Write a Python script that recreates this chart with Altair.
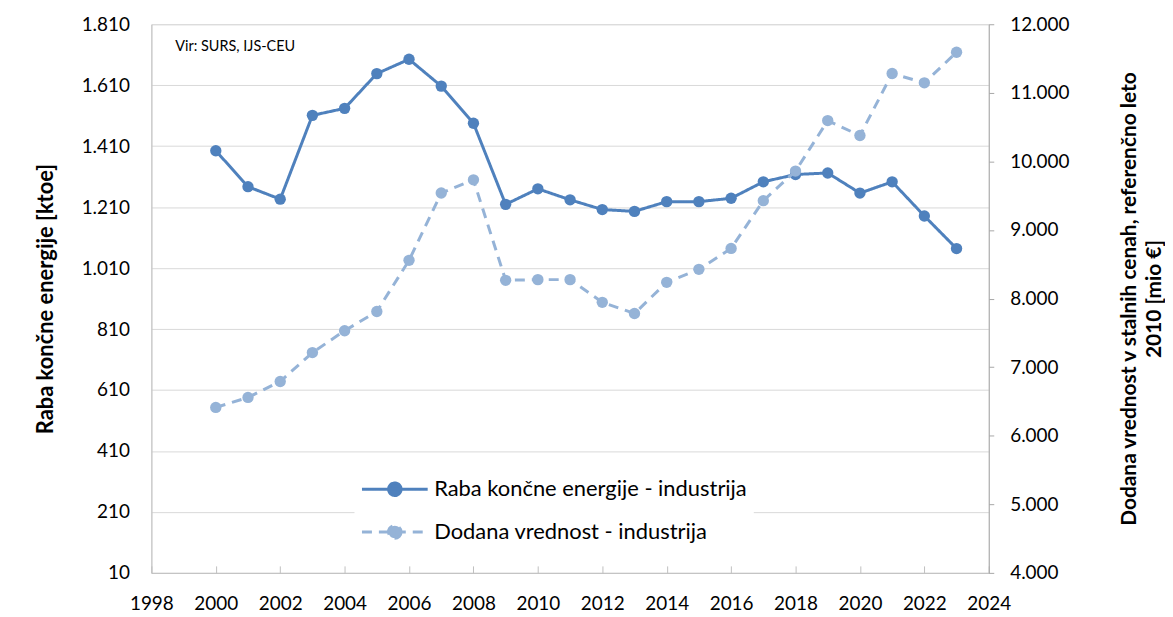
import altair as alt
import pandas as pd

years = list(range(2000, 2024))
energy = [1395, 1277, 1236, 1511, 1534, 1648, 1695, 1607, 1485, 1219, 1270, 1234,
          1202, 1196, 1228, 1228, 1239, 1293, 1317, 1322, 1256, 1293, 1181, 1074]
value_added = [6413, 6558, 6791, 7212, 7531, 7812, 8557, 9539, 9731, 8266, 8276, 8276,
               7945, 7782, 8237, 8426, 8731, 9427, 9859, 10595, 10377, 11281, 11146, 11591]
series = ["Raba končne energije - industrija", "Dodana vrednost - industrija"]
colors = ["#4F81BD", "#95B3D7"]
x_ticks = list(range(1998, 2025, 2))
left_ticks = list(range(10, 1811, 200))
right_ticks = list(range(4000, 12001, 1000))
left_title = "Raba končne energije [ktoe]"
right_title = ["Dodana vrednost v stalnih cenah, referenčno leto", "2010 [mio €]"]
note = ["Vir: SURS, IJS-CEU"]

FONT = "Lato"
# legend symbol: line with a dot (unit = sqrt(size)/2 px)
DOT = "M-1,0L3,0M1.38,0A0.38,0.38,0,1,1,0.62,0A0.38,0.38,0,1,1,1.38,0Z"
SEP = "replace(format(datum.value, ',d'), ',', '.')"

df_e = pd.DataFrame({"leto": years, "vrednost": energy, "serija": series[0]})
df_v = pd.DataFrame({"leto": years, "vrednost": value_added, "serija": series[1]})
df_note = pd.DataFrame({"besedilo": note})

legend = alt.Legend(title=None, orient="none", legendX=204, legendY=443,
                    symbolType=DOT, symbolSize=1089, symbolStrokeWidth=3,
                    labelFont=FONT, labelFontSize=22, labelColor="black", labelLimit=500,
                    labelOffset=38, rowPadding=12, fillColor="white", padding=6)

stroke = alt.Stroke("serija:N", scale=alt.Scale(domain=series, range=colors), legend=legend)
fill = alt.Fill("serija:N", scale=alt.Scale(domain=series, range=colors), legend=legend)
dash = alt.StrokeDash("serija:N", scale=alt.Scale(domain=series, range=[[1, 0], [10, 7]]), legend=legend)

xscale = alt.Scale(domain=[1998, 2024], nice=False, zero=False)
x_main = alt.X("leto:Q", scale=xscale,
               axis=alt.Axis(values=x_ticks, format="d", title=None, grid=False, ticks=False,
                             labelFont=FONT, labelFontSize=19, labelColor="black",
                             labelPadding=22, labelFlush=False, domainColor="#BFBFBF",
                             orient="bottom"))
x_tick = alt.X("leto:Q", scale=xscale,
               axis=alt.Axis(values=x_ticks, title=None, grid=False, labels=False,
                             domain=False, ticks=True, tickSize=7, tickColor="#BFBFBF",
                             offset=-7, orient="bottom"))

y_left = alt.Y("vrednost:Q", scale=alt.Scale(domain=[10, 1810], nice=False, zero=False),
               axis=alt.Axis(values=left_ticks, labelExpr=SEP, title=left_title,
                             titleFont=FONT, titleFontSize=22, titleFontWeight="bold",
                             titleColor="black", titlePadding=24,
                             labelFont=FONT, labelFontSize=19, labelColor="black",
                             labelPadding=22, ticks=False, domainColor="#BFBFBF",
                             grid=True, gridColor="#D9D9D9", gridWidth=1))
y_right = alt.Y("vrednost:Q", scale=alt.Scale(domain=[4000, 12000], nice=False, zero=False),
                axis=alt.Axis(orient="right", values=right_ticks, labelExpr=SEP,
                              title=right_title, titleAngle=270, titleFont=FONT,
                              titleFontSize=21, titleFontWeight="bold", titleColor="black",
                              titlePadding=46, titleLineHeight=25,
                              labelFont=FONT, labelFontSize=19, labelColor="black",
                              labelPadding=16, tickSize=5, tickColor="#A6A6A6",
                              domainColor="#A6A6A6", grid=False))

line_e = alt.Chart(df_e).mark_line(strokeWidth=3).encode(x=x_main, y=y_left, stroke=stroke, strokeDash=dash)
pts_e = alt.Chart(df_e).mark_circle(size=130, opacity=1).encode(x=x_main, y=y_left, fill=fill)
note_layer = alt.Chart(df_note).mark_text(align="left", baseline="middle", font=FONT,
                                          fontSize=14.5, color="black").encode(
    text="besedilo:N", x=alt.value(24), y=alt.value(23))

line_v = alt.Chart(df_v).mark_line(strokeWidth=3).encode(x=x_tick, y=y_right, stroke=stroke, strokeDash=dash)
pts_v = alt.Chart(df_v).mark_circle(size=130, opacity=1).encode(x=x_tick, y=y_right, fill=fill)

left = alt.layer(line_e, pts_e, note_layer)
right = alt.layer(line_v, pts_v)

chart = (alt.layer(left, right)
         .resolve_scale(y="independent")
         .resolve_axis(x="independent")
         .properties(width=841, height=551,
                     padding={"left": 26, "top": 6, "right": 0, "bottom": 0})
         .configure_view(stroke=None)
         .configure(background="white"))

chart.save("out.html", embed_options={"renderer": "svg", "actions": False})
